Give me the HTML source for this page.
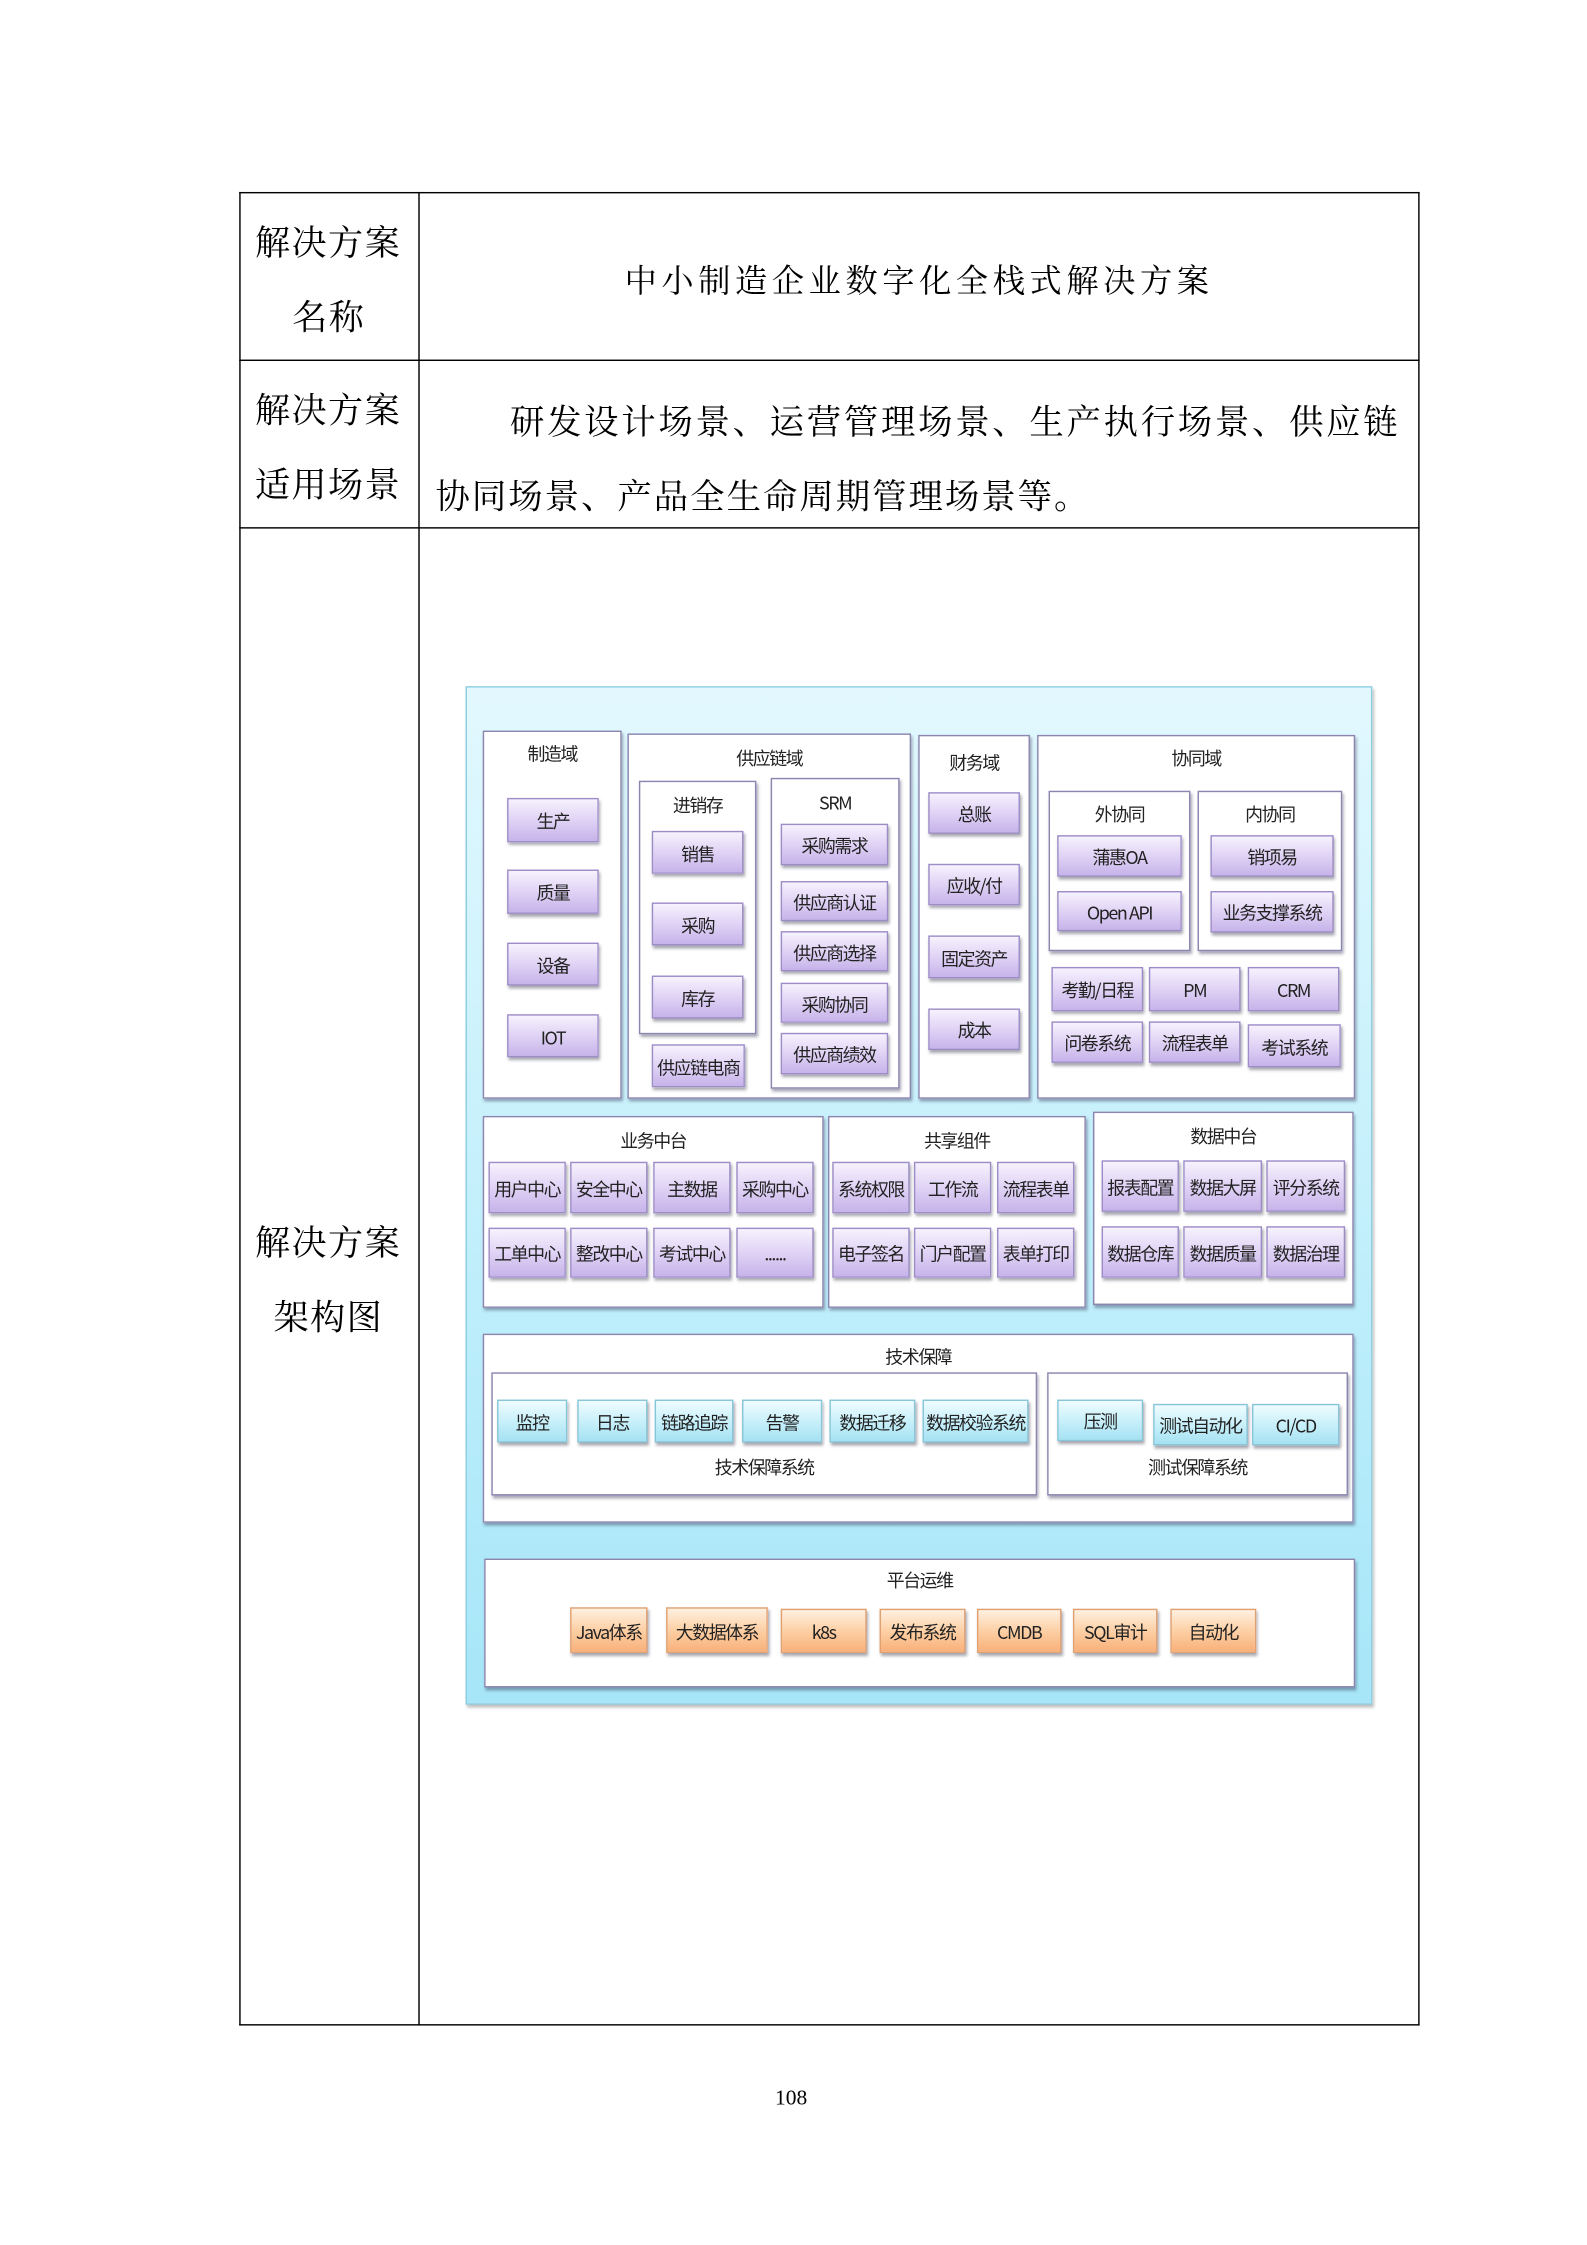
<!DOCTYPE html>
<html><head><meta charset="utf-8">
<style>
html,body{margin:0;padding:0;background:#fff;}
body{width:1587px;height:2245px;overflow:hidden;position:relative;}
#s{position:absolute;left:0;top:0;width:1100px;height:1556px;transform:scale(1.4325);transform-origin:0 0;}
#s div{position:absolute;box-sizing:border-box;}
.ln{background:#000;}
.t{font-family:"Liberation Serif","Noto Serif CJK SC",serif;color:#000;white-space:nowrap;}
.lab{font-size:24.5px;letter-spacing:1px;}
.bx{background:#fff;border:1px solid #8a86b0;box-shadow:1px 2px 2px rgba(60,60,90,.45);}
.h{font-family:"Noto Sans CJK SC","WenQuanYi Zen Hei",sans-serif;font-size:12.5px;letter-spacing:-1px;color:#222;text-align:center;white-space:nowrap;line-height:1;}
.p,.c,.o{font-family:"Noto Sans CJK SC","WenQuanYi Zen Hei",sans-serif;font-size:12.5px;letter-spacing:-1px;color:#222;display:flex;align-items:center;justify-content:center;white-space:nowrap;box-shadow:1px 2px 2px rgba(60,60,80,.45);}
.p{background:linear-gradient(#f6f2fd,#e2d6f6 45%,#c7b3ea);border:1px solid #9d8cc8;}
.c{background:linear-gradient(#effcff,#c9f0fa 50%,#a5e2f3);border:1px solid #86c6d8;}
.o{background:linear-gradient(#fff0e0,#fdd0a5 50%,#f8b079);border:1px solid #e0a070;}
</style></head><body>
<div id="s">
<div class="ln" style="left:167px;top:134px;width:824px;height:1px"></div>
<div class="ln" style="left:167px;top:251px;width:824px;height:1px"></div>
<div class="ln" style="left:167px;top:368px;width:824px;height:1px"></div>
<div class="ln" style="left:167px;top:1413px;width:824px;height:1px"></div>
<div class="ln" style="left:167px;top:134px;width:1px;height:1280px"></div>
<div class="ln" style="left:292px;top:134px;width:1px;height:1280px"></div>
<div class="ln" style="left:990px;top:134px;width:1px;height:1280px"></div>

<div class="t lab" style="left:178px;top:151px">解决方案</div>
<div class="t lab" style="left:204px;top:203px">名称</div>
<div class="t lab" style="left:178px;top:268px">解决方案</div>
<div class="t lab" style="left:178px;top:320px">适用场景</div>
<div class="t lab" style="left:178px;top:849px">解决方案</div>
<div class="t lab" style="left:191px;top:901px">架构图</div>
<div class="t" style="left:436px;top:179px;font-size:22.5px;letter-spacing:3.2px">中小制造企业数字化全栈式解决方案</div>
<div class="t" style="left:356px;top:275px;font-size:24px;letter-spacing:1.9px">研发设计场景、运营管理场景、生产执行场景、供应链</div>
<div class="t" style="left:304px;top:327px;font-size:24px;letter-spacing:1.4px">协同场景、产品全生命周期管理场景等。</div>
<div class="t" style="left:541px;top:1457px;font-size:15px">108</div>

<div style="left:325px;top:479px;width:633px;height:711px;background:linear-gradient(#e2f8fe,#c4f0fc 50%,#a6e6f8);border:1px solid #8dcfe2;box-shadow:1px 2px 2px rgba(0,0,0,.25)"></div>

<div class="bx" style="left:337px;top:510px;width:97px;height:257px"></div>
<div class="h" style="left:337px;top:520px;width:97px">制造域</div>
<div class="p" style="left:354px;top:557px;width:64px;height:31px">生产</div>
<div class="p" style="left:354px;top:607px;width:64px;height:31px">质量</div>
<div class="p" style="left:354px;top:658px;width:64px;height:30px">设备</div>
<div class="p" style="left:354px;top:708px;width:64px;height:30px">IOT</div>

<div class="bx" style="left:438px;top:512px;width:198px;height:255px"></div>
<div class="h" style="left:438px;top:523px;width:198px">供应链域</div>
<div class="bx" style="left:446px;top:545px;width:82px;height:177px"></div>
<div class="h" style="left:446px;top:556px;width:82px">进销存</div>
<div class="bx" style="left:538px;top:543px;width:90px;height:217px"></div>
<div class="h" style="left:538px;top:554px;width:90px">SRM</div>
<div class="p" style="left:455px;top:580px;width:64px;height:30px">销售</div>
<div class="p" style="left:455px;top:630px;width:64px;height:30px">采购</div>
<div class="p" style="left:455px;top:681px;width:64px;height:30px">库存</div>
<div class="p" style="left:455px;top:729px;width:65px;height:30px">供应链电商</div>
<div class="p" style="left:545px;top:575px;width:75px;height:29px">采购需求</div>
<div class="p" style="left:545px;top:615px;width:75px;height:28px">供应商认证</div>
<div class="p" style="left:545px;top:650px;width:75px;height:28px">供应商选择</div>
<div class="p" style="left:545px;top:686px;width:75px;height:28px">采购协同</div>
<div class="p" style="left:545px;top:721px;width:75px;height:29px">供应商绩效</div>

<div class="bx" style="left:641px;top:513px;width:78px;height:254px"></div>
<div class="h" style="left:641px;top:526px;width:78px">财务域</div>
<div class="p" style="left:648px;top:553px;width:64px;height:29px">总账</div>
<div class="p" style="left:648px;top:603px;width:64px;height:29px">应收/付</div>
<div class="p" style="left:648px;top:653px;width:64px;height:30px">固定资产</div>
<div class="p" style="left:648px;top:704px;width:64px;height:29px">成本</div>

<div class="bx" style="left:724px;top:513px;width:222px;height:254px"></div>
<div class="h" style="left:724px;top:523px;width:222px">协同域</div>
<div class="bx" style="left:732px;top:552px;width:99px;height:112px"></div>
<div class="h" style="left:732px;top:562px;width:99px">外协同</div>
<div class="bx" style="left:836px;top:552px;width:101px;height:112px"></div>
<div class="h" style="left:836px;top:562px;width:101px">内协同</div>
<div class="p" style="left:738px;top:583px;width:87px;height:29px">蒲惠OA</div>
<div class="p" style="left:738px;top:622px;width:87px;height:28px">Open API</div>
<div class="p" style="left:845px;top:583px;width:86px;height:29px">销项易</div>
<div class="p" style="left:845px;top:622px;width:86px;height:29px">业务支撑系统</div>
<div class="p" style="left:734px;top:675px;width:64px;height:31px">考勤/日程</div>
<div class="p" style="left:802px;top:675px;width:64px;height:31px">PM</div>
<div class="p" style="left:871px;top:675px;width:64px;height:31px">CRM</div>
<div class="p" style="left:734px;top:713px;width:64px;height:29px">问卷系统</div>
<div class="p" style="left:802px;top:713px;width:64px;height:29px">流程表单</div>
<div class="p" style="left:871px;top:715px;width:65px;height:30px">考试系统</div>

<div class="bx" style="left:337px;top:779px;width:238px;height:134px"></div>
<div class="h" style="left:337px;top:790px;width:238px">业务中台</div>
<div class="p" style="left:341px;top:811px;width:54px;height:36px">用户中心</div>
<div class="p" style="left:398px;top:811px;width:54px;height:36px">安全中心</div>
<div class="p" style="left:456px;top:811px;width:54px;height:36px">主数据</div>
<div class="p" style="left:514px;top:811px;width:54px;height:36px">采购中心</div>
<div class="p" style="left:341px;top:857px;width:54px;height:35px">工单中心</div>
<div class="p" style="left:398px;top:857px;width:54px;height:35px">整改中心</div>
<div class="p" style="left:456px;top:857px;width:54px;height:35px">考试中心</div>
<div class="p" style="left:514px;top:857px;width:54px;height:35px">......</div>

<div class="bx" style="left:578px;top:779px;width:180px;height:134px"></div>
<div class="h" style="left:578px;top:790px;width:180px">共享组件</div>
<div class="p" style="left:581px;top:811px;width:54px;height:36px">系统权限</div>
<div class="p" style="left:638px;top:811px;width:54px;height:36px">工作流</div>
<div class="p" style="left:696px;top:811px;width:54px;height:36px">流程表单</div>
<div class="p" style="left:581px;top:857px;width:54px;height:35px">电子签名</div>
<div class="p" style="left:638px;top:857px;width:54px;height:35px">门户配置</div>
<div class="p" style="left:696px;top:857px;width:54px;height:35px">表单打印</div>

<div class="bx" style="left:763px;top:776px;width:182px;height:135px"></div>
<div class="h" style="left:763px;top:787px;width:182px">数据中台</div>
<div class="p" style="left:769px;top:810px;width:54px;height:36px">报表配置</div>
<div class="p" style="left:826px;top:810px;width:55px;height:36px">数据大屏</div>
<div class="p" style="left:884px;top:810px;width:55px;height:36px">评分系统</div>
<div class="p" style="left:769px;top:856px;width:54px;height:36px">数据仓库</div>
<div class="p" style="left:826px;top:856px;width:55px;height:36px">数据质量</div>
<div class="p" style="left:884px;top:856px;width:55px;height:36px">数据治理</div>

<div class="bx" style="left:337px;top:931px;width:608px;height:132px"></div>
<div class="h" style="left:337px;top:941px;width:608px">技术保障</div>
<div class="bx" style="left:343px;top:958px;width:381px;height:86px"></div>
<div class="bx" style="left:731px;top:958px;width:210px;height:86px"></div>
<div class="c" style="left:347px;top:977px;width:49px;height:30px">监控</div>
<div class="c" style="left:403px;top:977px;width:49px;height:30px">日志</div>
<div class="c" style="left:457px;top:977px;width:55px;height:30px">链路追踪</div>
<div class="c" style="left:518px;top:977px;width:56px;height:30px">告警</div>
<div class="c" style="left:579px;top:977px;width:60px;height:30px">数据迁移</div>
<div class="c" style="left:644px;top:977px;width:74px;height:30px">数据校验系统</div>
<div class="h" style="left:343px;top:1018px;width:381px">技术保障系统</div>
<div class="c" style="left:738px;top:977px;width:60px;height:29px">压测</div>
<div class="c" style="left:805px;top:980px;width:66px;height:29px">测试自动化</div>
<div class="c" style="left:874px;top:980px;width:61px;height:29px">CI/CD</div>
<div class="h" style="left:731px;top:1018px;width:210px">测试保障系统</div>

<div class="bx" style="left:338px;top:1088px;width:608px;height:90px"></div>
<div class="h" style="left:338px;top:1097px;width:608px">平台运维</div>
<div class="o" style="left:398px;top:1122px;width:54px;height:32px">Java体系</div>
<div class="o" style="left:465px;top:1122px;width:71px;height:32px">大数据体系</div>
<div class="o" style="left:545px;top:1123px;width:60px;height:31px">k8s</div>
<div class="o" style="left:614px;top:1123px;width:60px;height:31px">发布系统</div>
<div class="o" style="left:682px;top:1123px;width:59px;height:31px">CMDB</div>
<div class="o" style="left:749px;top:1123px;width:59px;height:31px">SQL审计</div>
<div class="o" style="left:817px;top:1123px;width:60px;height:31px">自动化</div>
</div>
</body></html>
